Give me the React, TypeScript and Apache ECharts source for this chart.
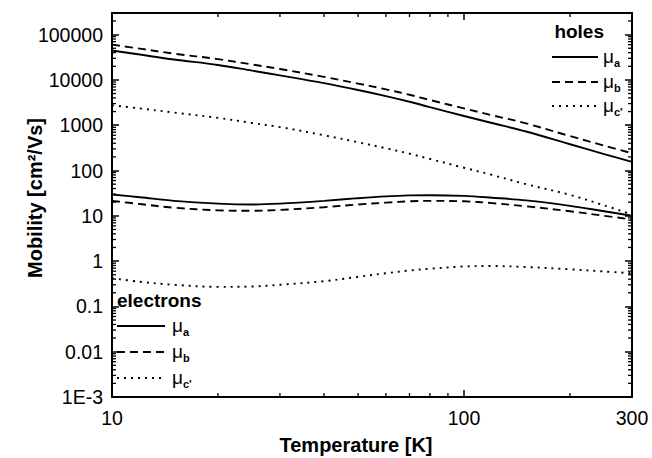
import React, { useEffect, useRef } from "react";
import * as echarts from "echarts";

// Temperature grid (K) shared by all curves
const temperatures = [10, 12, 15, 20, 25, 30, 40, 50, 60, 70, 80, 100, 120, 150, 200, 250, 300];

// Hole mobilities (cm^2/Vs)
const holesMuA = [44700, 36300, 28200, 21400, 16000, 12600, 8500, 6000, 4400, 3300, 2500, 1600, 1120, 725, 380, 230, 155];
const holesMuB = [60000, 49000, 38000, 28800, 21900, 17400, 11700, 8300, 6200, 4700, 3600, 2350, 1660, 1100, 575, 355, 240];
const holesMuC = [2750, 2350, 1900, 1450, 1120, 910, 600, 420, 310, 235, 180, 115, 80, 50, 29, 17, 10.7];

// Electron mobilities (cm^2/Vs)
const electronsMuA = [29.5, 25.7, 21.4, 18.6, 17.8, 18.6, 21.4, 24.5, 26.9, 28.2, 28.5, 27.5, 25.1, 21.9, 16.6, 12.6, 10];
const electronsMuB = [21.4, 18.2, 15.1, 13.2, 12.9, 13.5, 15.5, 17.8, 19.5, 20.9, 21.4, 20.9, 19.1, 16.2, 12.6, 10, 8.3];
const electronsMuC = [0.42, 0.35, 0.3, 0.27, 0.275, 0.3, 0.36, 0.45, 0.54, 0.62, 0.68, 0.76, 0.78, 0.74, 0.66, 0.59, 0.54];

// Axis ranges and tick labels
const xRange = [10, 300];
const yRange = [0.001, 300000];
const xTickLabels = ["10", "100", "300"];
const yTickLabels = ["1E-3", "0.01", "0.1", "1", "10", "100", "1000", "10000", "100000"];
const xMinorTicks = [20, 30, 40, 50, 60, 70, 80, 90, 200];
const yMinorMantissas = [2, 3, 4, 5, 6, 7, 8, 9];
const yDecades = [0.001, 0.01, 0.1, 1, 10, 100, 1000, 10000, 100000];

const FONT = "'Liberation Sans', Arial, Helvetica, sans-serif";
const BLACK = "#000";

const pairs = (ys: number[]) => temperatures.map((t, i) => [t, ys[i]]);

const SOLID = "solid" as const;
const DASHED = [8, 5];
const DOTTED = [2, 5];

export default function App() {
  const ref = useRef<HTMLDivElement>(null);

  useEffect(() => {
    if (!ref.current) return;
    const chart = echarts.init(ref.current, undefined, { renderer: "svg" });

    const yMinor: number[] = [];
    yDecades.forEach((d) =>
      yMinorMantissas.forEach((m) => {
        const v = d * m;
        if (v < yRange[1] * 0.999) yMinor.push(v);
      })
    );

    const lineSeries = (name: string, ys: number[], type: any) => ({
      name,
      type: "line",
      data: pairs(ys),
      smooth: 0.35,
      showSymbol: false,
      symbol: "none",
      xAxisIndex: 0,
      yAxisIndex: 0,
      lineStyle: { color: BLACK, width: 1.9, type },
      z: 3,
    });

    const tickStyle = { stroke: BLACK, lineWidth: 1.3 };

    const baseX = {
      type: "log",
      logBase: 10,
      min: xRange[0],
      max: xRange[1],
      splitLine: { show: false },
      axisLine: { show: true, onZero: false, lineStyle: { color: BLACK, width: 2 } },
      axisTick: { show: true, inside: true, length: 7, lineStyle: { color: BLACK, width: 1.5 } },
      minorTick: { show: false },
    };
    const baseY = {
      type: "log",
      logBase: 10,
      min: yRange[0],
      max: yRange[1],
      splitLine: { show: false },
      axisLine: { show: true, onZero: false, lineStyle: { color: BLACK, width: 2 } },
      axisTick: { show: true, inside: true, length: 7, lineStyle: { color: BLACK, width: 1.5 } },
      minorTick: { show: false },
    };

    const muLabel = (x: number, y: number, sub: string) => [
      {
        type: "text",
        x,
        y,
        style: {
          text: "μ",
          fill: BLACK,
          fontSize: 19,
          fontFamily: FONT,
          align: "left",
          textAlign: "left",
          verticalAlign: "middle",
          textVerticalAlign: "middle",
        },
      },
      {
        type: "text",
        x: x + 11,
        y: y + 7,
        style: {
          text: sub,
          fill: BLACK,
          fontSize: 11,
          fontWeight: "bold",
          fontFamily: FONT,
          align: "left",
          textAlign: "left",
          verticalAlign: "middle",
          textVerticalAlign: "middle",
        },
      },
    ];

    const legendLine = (x1: number, x2: number, y: number, dash: any) => ({
      type: "line",
      shape: { x1, y1: y, x2, y2: y },
      style: { stroke: BLACK, lineWidth: 1.9, lineDash: dash === SOLID ? null : dash },
    });

    const titleText = (text: string, x: number, y: number, align: string) => ({
      type: "text",
      x,
      y,
      style: {
        text,
        fill: BLACK,
        fontSize: 19,
        fontWeight: "bold",
        fontFamily: FONT,
        align,
        textAlign: align,
        verticalAlign: "middle",
        textVerticalAlign: "middle",
      },
    });

    const option: any = {
      animation: false,
      backgroundColor: "#fff",
      grid: { left: 112, top: 13, right: 20, bottom: 61, containLabel: false },
      xAxis: [
        {
          ...baseX,
          position: "bottom",
          axisLabel: {
            show: true,
            color: BLACK,
            fontSize: 19.5,
            fontFamily: FONT,
            margin: 11,
            showMinLabel: true,
            showMaxLabel: true,
            formatter: (v: number) => {
              const s = String(Math.round(v));
              return xTickLabels.includes(s) ? s : "";
            },
          },
        },
        { ...baseX, position: "top", axisLabel: { show: false } },
      ],
      yAxis: [
        {
          ...baseY,
          position: "left",
          axisLabel: {
            show: true,
            color: BLACK,
            fontSize: 19.5,
            fontFamily: FONT,
            margin: 9,
            showMinLabel: true,
            showMaxLabel: true,
            formatter: (v: number) => {
              const e = Math.log10(v);
              const k = Math.round(e);
              if (Math.abs(e - k) > 0.01) return "";
              return yTickLabels[k + 3] ?? "";
            },
          },
        },
        { ...baseY, position: "right", axisLabel: { show: false } },
      ],
      series: [
        lineSeries("holes μa", holesMuA, SOLID),
        lineSeries("holes μb", holesMuB, DASHED),
        lineSeries("holes μc'", holesMuC, DOTTED),
        lineSeries("electrons μa", electronsMuA, SOLID),
        lineSeries("electrons μb", electronsMuB, DASHED),
        lineSeries("electrons μc'", electronsMuC, DOTTED),
        {
          // minor ticks on left and right frame edges
          type: "custom",
          silent: true,
          xAxisIndex: 0,
          yAxisIndex: 0,
          data: yMinor.map((v) => [xRange[0], v]),
          renderItem: (_p: any, api: any) => {
            const v = api.value(1);
            const l = api.coord([xRange[0], v]);
            const r = api.coord([xRange[1], v]);
            return {
              type: "group",
              children: [
                { type: "line", shape: { x1: l[0], y1: l[1], x2: l[0] + 4, y2: l[1] }, style: tickStyle },
                { type: "line", shape: { x1: r[0], y1: r[1], x2: r[0] - 4, y2: r[1] }, style: tickStyle },
              ],
            };
          },
          z: 4,
        },
        {
          // minor ticks on bottom and top frame edges
          type: "custom",
          silent: true,
          xAxisIndex: 0,
          yAxisIndex: 0,
          data: xMinorTicks.map((t) => [t, yRange[0]]),
          renderItem: (_p: any, api: any) => {
            const t = api.value(0);
            const b = api.coord([t, yRange[0]]);
            const tp = api.coord([t, yRange[1]]);
            return {
              type: "group",
              children: [
                { type: "line", shape: { x1: b[0], y1: b[1], x2: b[0], y2: b[1] - 4 }, style: tickStyle },
                { type: "line", shape: { x1: tp[0], y1: tp[1], x2: tp[0], y2: tp[1] + 4 }, style: tickStyle },
              ],
            };
          },
          z: 4,
        },
      ],
      graphic: [
        // axis titles
        {
          type: "text",
          x: 35,
          y: 198,
          rotation: Math.PI / 2,
          style: {
            text: "Mobility [cm²/Vs]",
            fill: BLACK,
            fontSize: 20,
            fontWeight: "bold",
            fontFamily: FONT,
            align: "center",
            textAlign: "center",
            verticalAlign: "middle",
            textVerticalAlign: "middle",
          },
        },
        {
          type: "text",
          x: 356,
          y: 445,
          style: {
            text: "Temperature [K]",
            fill: BLACK,
            fontSize: 20,
            fontWeight: "bold",
            fontFamily: FONT,
            align: "center",
            textAlign: "center",
            verticalAlign: "middle",
            textVerticalAlign: "middle",
          },
        },
        // holes legend
        titleText("holes", 604, 31, "right"),
        legendLine(552, 598, 57, SOLID),
        ...muLabel(603, 56, "a"),
        legendLine(552, 598, 82, DASHED),
        ...muLabel(603, 81, "b"),
        legendLine(552, 598, 106, DOTTED),
        ...muLabel(603, 105, "c'"),
        // electrons legend
        titleText("electrons", 117, 300, "left"),
        legendLine(117, 165, 326, SOLID),
        ...muLabel(172, 325, "a"),
        legendLine(117, 165, 352, DASHED),
        ...muLabel(172, 351, "b"),
        legendLine(117, 165, 378, DOTTED),
        ...muLabel(172, 377, "c'"),
      ],
    };

    chart.setOption(option);
    return () => chart.dispose();
  }, []);

  return (
    <div
      ref={ref}
      style={{ position: "fixed", left: 0, top: 0, width: 652, height: 458, background: "#fff" }}
    />
  );
}
